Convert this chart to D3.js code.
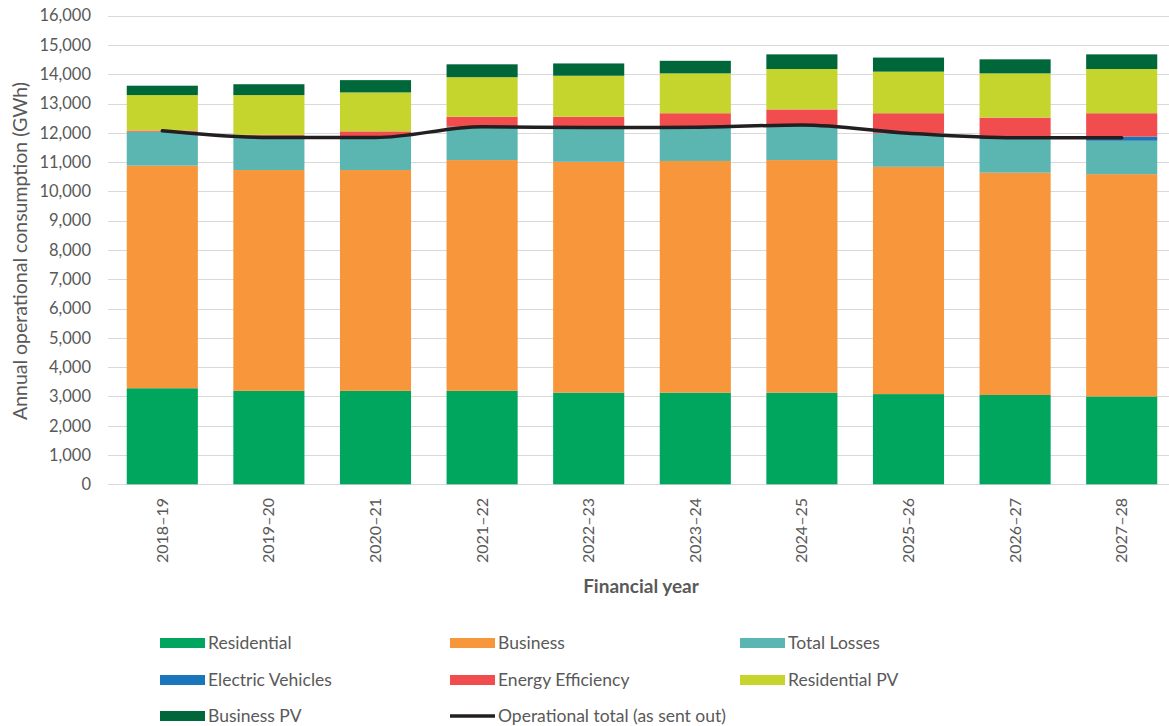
<!DOCTYPE html>
<html>
<head>
<meta charset="utf-8">
<script src="https://cdn.jsdelivr.net/npm/d3@7"></script>
<style>
  body { margin: 0; background: #fff; }
  svg { display: block; font-family: Lato, "Open Sans", sans-serif; }
</style>
</head>
<body>
<svg id="chart" width="1169" height="726"></svg>
<script>
// chart data (GWh)
const years = ['2018–19', '2019–20', '2020–21', '2021–22', '2022–23', '2023–24', '2024–25', '2025–26', '2026–27', '2027–28'];
const residential = [3280, 3190, 3190, 3190, 3130, 3130, 3130, 3080, 3050, 3000];
const business = [7600, 7540, 7540, 7880, 7880, 7910, 7940, 7760, 7590, 7590];
const totalLosses = [1160, 1170, 1160, 1140, 1180, 1150, 1170, 1140, 1150, 1140];
const electricVehicles = [0, 0, 0, 0, 0, 0, 0, 10, 50, 140];
const energyEfficiency = [40, 30, 160, 340, 360, 480, 560, 680, 680, 800];
const residentialPV = [1210, 1360, 1330, 1350, 1400, 1360, 1380, 1420, 1510, 1510];
const businessPV = [320, 370, 420, 440, 420, 430, 500, 480, 480, 500];
const operationalTotal = [12070, 11840, 11840, 12210, 12180, 12190, 12270, 11990, 11830, 11830];
const yTicks = [0, 1000, 2000, 3000, 4000, 5000, 6000, 7000, 8000, 9000, 10000, 11000, 12000, 13000, 14000, 15000, 16000];

const series = [
  { key: 'Residential', values: residential, color: '#00a65d' },
  { key: 'Business', values: business, color: '#f7963a' },
  { key: 'Total Losses', values: totalLosses, color: '#5bb6b2' },
  { key: 'Electric Vehicles', values: electricVehicles, color: '#1b75bb' },
  { key: 'Energy Efficiency', values: energyEfficiency, color: '#f14c4e' },
  { key: 'Residential PV', values: residentialPV, color: '#c6d52e' },
  { key: 'Business PV', values: businessPV, color: '#00673a' }
];

const textColor = '#595959';
const svg = d3.select('#chart');

const x = d3.scaleBand().domain(years).range([109, 1175]).paddingInner(0.333).paddingOuter(0.1665);
const y = d3.scaleLinear().domain([0, 16000]).range([484.3, 15.7]);

// table for the stack
const table = years.map((yr, i) => {
  const row = { year: yr };
  series.forEach(s => { row[s.key] = s.values[i]; });
  return row;
});
const stacked = d3.stack().keys(series.map(s => s.key))(table);

// gridlines
svg.append('g')
  .selectAll('line')
  .data(yTicks)
  .join('line')
  .attr('x1', 108)
  .attr('x2', 1169)
  .attr('y1', d => Math.round(y(d)) + 0.5)
  .attr('y2', d => Math.round(y(d)) + 0.5)
  .attr('stroke', '#d9d9d9')
  .attr('stroke-width', 1);

// y tick labels
svg.append('g')
  .selectAll('text')
  .data(yTicks)
  .join('text')
  .attr('x', 91)
  .attr('y', d => y(d))
  .attr('dy', '0.35em')
  .attr('text-anchor', 'end')
  .attr('fill', textColor)
  .attr('font-size', 16.5)
  .text(d => d3.format(',')(d));

// bars
svg.append('g')
  .selectAll('g')
  .data(stacked)
  .join('g')
  .attr('fill', (d, i) => series[i].color)
  .selectAll('rect')
  .data(d => d)
  .join('rect')
  .attr('x', d => x(d.data.year))
  .attr('width', x.bandwidth())
  .attr('y', d => y(d[1]))
  .attr('height', d => Math.max(0, y(d[0]) - y(d[1])));

// operational total line
const line = d3.line()
  .x((d, i) => x(years[i]) + x.bandwidth() / 2)
  .y(d => y(d))
  .curve(d3.curveMonotoneX);

svg.append('path')
  .datum(operationalTotal)
  .attr('d', line)
  .attr('fill', 'none')
  .attr('stroke', '#231f20')
  .attr('stroke-width', 3.5)
  .attr('stroke-linecap', 'round');

// x tick labels
svg.append('g')
  .selectAll('text')
  .data(years)
  .join('text')
  .attr('transform', d => `translate(${x(d) + x.bandwidth() / 2 + 5.5},498) rotate(-90)`)
  .attr('text-anchor', 'end')
  .attr('fill', textColor)
  .attr('font-size', 16)
  .text(d => d);

// axis titles
svg.append('text')
  .attr('x', 641)
  .attr('y', 593)
  .attr('text-anchor', 'middle')
  .attr('font-weight', 'bold')
  .attr('font-size', 19)
  .attr('fill', textColor)
  .text('Financial year');

svg.append('text')
  .attr('transform', 'translate(27,251) rotate(-90)')
  .attr('text-anchor', 'middle')
  .attr('font-size', 19.5)
  .attr('fill', textColor)
  .text('Annual operational consumption (GWh)');

// legend
const legendItems = series.map(s => ({ key: s.key, color: s.color, type: 'rect' }));
legendItems.push({ key: 'Operational total (as sent out)', color: '#231f20', type: 'line' });
const colX = [160, 450, 740];
const rowY = [643, 680, 716];

const legend = svg.append('g')
  .selectAll('g')
  .data(legendItems)
  .join('g')
  .attr('transform', (d, i) => `translate(${colX[i % 3]},${rowY[Math.floor(i / 3)]})`);

legend.filter(d => d.type === 'rect')
  .append('rect')
  .attr('x', 0)
  .attr('y', -5)
  .attr('width', 45)
  .attr('height', 10)
  .attr('fill', d => d.color);

legend.filter(d => d.type === 'line')
  .append('line')
  .attr('x1', 0)
  .attr('x2', 45)
  .attr('y1', 0)
  .attr('y2', 0)
  .attr('stroke', d => d.color)
  .attr('stroke-width', 3.5);

legend.append('text')
  .attr('x', 48)
  .attr('dy', '0.35em')
  .attr('font-size', 17.5)
  .attr('fill', textColor)
  .text(d => d.key);
</script>
</body>
</html>
